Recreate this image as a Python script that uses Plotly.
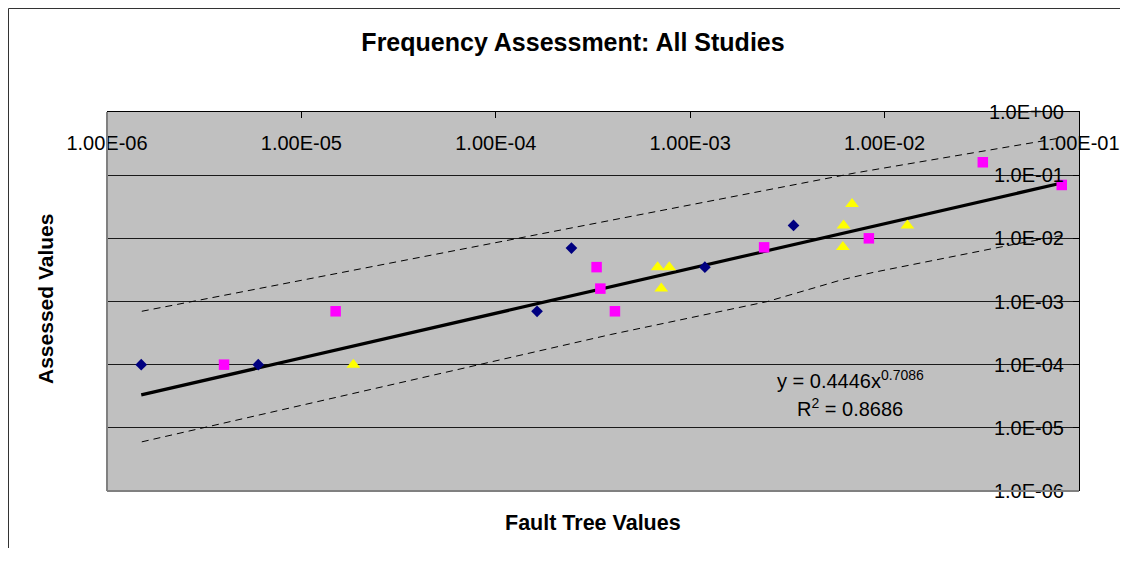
import plotly.graph_objects as go

# ---- data ----
navy_x = [1.5e-6, 6.0e-6, 1.63e-4, 2.45e-4, 1.19e-3, 3.4e-3]
navy_y = [1.0e-4, 1.0e-4, 7.0e-4, 7.0e-3, 3.5e-3, 1.6e-2]

pink_x = [4.0e-6, 1.5e-5, 3.3e-4, 3.45e-4, 4.1e-4, 2.4e-3, 8.3e-3, 3.2e-2, 8.15e-2]
pink_y = [1.0e-4, 7.0e-4, 3.5e-3, 1.6e-3, 7.0e-4, 7.2e-3, 1.0e-2, 0.16, 0.07]

yel_x = [1.85e-5, 6.8e-4, 7.8e-4, 7.1e-4, 6.1e-3, 6.15e-3, 6.8e-3, 1.31e-2]
yel_y = [1.0e-4, 3.5e-3, 3.5e-3, 1.6e-3, 7.3e-3, 1.6e-2, 3.5e-2, 1.6e-2]

# power trendline y = a * x^b (coefficients shown on the chart)
trend_a = 0.4446
trend_b = 0.7086

upper_x = [1.51e-6, 3.9e-4, 5.9e-3, 7.0e-3, 8.1e-2]
upper_y = [7.0e-4, 1.93e-2, 9.6e-2, 0.108, 0.39]
lower_x = [1.51e-6, 3.9e-4, 2.5e-3, 6.0e-3, 8.8e-3, 4.6e-2, 8.1e-2]
lower_y = [6.0e-6, 3.0e-4, 1.0e-3, 2.2e-3, 2.9e-3, 8.0e-3, 1.1e-2]

x_tickvals = [1e-6, 1e-5, 1e-4, 1e-3, 1e-2, 1e-1]
x_ticktext = ["1.00E-06", "1.00E-05", "1.00E-04", "1.00E-03", "1.00E-02", "1.00E-01"]
y_tickvals = [1e0, 1e-1, 1e-2, 1e-3, 1e-4, 1e-5, 1e-6]
y_ticktext = ["1.0E+00", "1.0E-01", "1.0E-02", "1.0E-03", "1.0E-04", "1.0E-05", "1.0E-06"]

title_text = "Frequency Assessment: All Studies"
x_title = "Fault Tree Values"
y_title = "Assessed Values"
eq_text = "y = 0.4446x<sup>0.7086</sup>"
r2_text = "R<sup>2</sup> = 0.8686"

FONT = "Arial, Liberation Sans, sans-serif"

# page body has an 8px margin; figure sized so the page stays inside the window
OFF = 8
W, H = 1112, 540
L, R, T, B = 99, 41, 104, 57
PW, PH = W - L - R, H - T - B


def ax(p):  # absolute window x pixel -> paper fraction
    return (p - OFF - L) / PW


def ay(p):  # absolute window y pixel -> paper fraction
    return (H - B - (p - OFF)) / PH


all_x = navy_x + pink_x + yel_x
tx = [min(all_x), max(all_x)]
ty = [trend_a * v ** trend_b for v in tx]

fig = go.Figure()
fig.add_trace(go.Scatter(x=upper_x, y=upper_y, mode="lines",
                         line=dict(color="black", width=1, dash="7px,5px"), hoverinfo="skip"))
fig.add_trace(go.Scatter(x=lower_x, y=lower_y, mode="lines",
                         line=dict(color="black", width=1, dash="7px,5px"), hoverinfo="skip"))
fig.add_trace(go.Scatter(x=tx, y=ty, mode="lines",
                         line=dict(color="black", width=3.2), hoverinfo="skip"))
fig.add_trace(go.Scatter(x=navy_x, y=navy_y, mode="markers",
                         marker=dict(symbol="diamond", size=9, color="#000080", line=dict(width=0))))
fig.add_trace(go.Scatter(x=pink_x, y=pink_y, mode="markers",
                         marker=dict(symbol="square", size=10.5, color="#FF00FF", line=dict(width=0))))
fig.add_trace(go.Scatter(x=yel_x, y=yel_y, mode="markers",
                         marker=dict(symbol="triangle-up", size=12, color="#FFFF00", line=dict(width=0))))
# carrier trace for the label-only overlay axes
fig.add_trace(go.Scatter(x=[None], y=[None], xaxis="x2", yaxis="y2", mode="markers",
                         hoverinfo="skip", showlegend=False))

fig.update_layout(
    width=W, height=H,
    autosize=False,
    margin=dict(l=L, r=R, t=T, b=B, pad=0, autoexpand=False),
    paper_bgcolor="white",
    plot_bgcolor="#C0C0C0",
    showlegend=False,
    font=dict(family=FONT, color="black", size=20),
    title=dict(text="<b>" + title_text + "</b>", x=(573 - OFF) / W, y=1 - (42 - OFF) / H,
               xref="container", yref="container", xanchor="center", yanchor="middle",
               automargin=False,
               font=dict(family=FONT, size=25, color="black")),
    xaxis=dict(type="log", range=[-6, -1], side="top", automargin=False,
               tickvals=x_tickvals, showticklabels=False,
               ticks="inside", ticklen=6, tickcolor="black", tickwidth=1,
               showline=True, linecolor="black", linewidth=1,
               showgrid=False, zeroline=False),
    yaxis=dict(type="log", range=[-6, 0], side="right", automargin=False,
               tickvals=y_tickvals, showticklabels=False,
               ticks="inside", ticklen=6, tickcolor="black", tickwidth=1,
               showline=True, linecolor="black", linewidth=1,
               showgrid=True, gridcolor="#1a1a1a", gridwidth=1, zeroline=False),
    xaxis2=dict(type="log", range=[-6, -1], overlaying="x", side="bottom", automargin=False,
                anchor="free", position=ay(128.5),
                tickvals=x_tickvals, ticktext=x_ticktext, ticks="",
                tickfont=dict(family=FONT, size=20, color="black"),
                showline=False, showgrid=False, zeroline=False),
    yaxis2=dict(type="log", range=[-6, 0], overlaying="y", side="left", automargin=False,
                anchor="free", position=ax(1064),
                tickvals=y_tickvals, ticktext=y_ticktext, ticks="",
                tickfont=dict(family=FONT, size=20, color="black"),
                showline=False, showgrid=False, zeroline=False),
    shapes=[
        # outer chart border (left and top visible)
        dict(type="rect", xref="paper", yref="paper",
             x0=ax(8.5), x1=ax(1160), y0=ay(600), y1=ay(8.5),
             line=dict(color="#333333", width=1), fillcolor="rgba(0,0,0,0)", layer="above"),
        # gray plot-area border on left and bottom
        dict(type="line", xref="paper", yref="paper", x0=0, x1=0, y0=0, y1=1,
             line=dict(color="#808080", width=2), layer="above"),
        dict(type="line", xref="paper", yref="paper", x0=0, x1=1, y0=0, y1=0,
             line=dict(color="#808080", width=2), layer="above"),
    ],
    annotations=[
        dict(text="<b>" + x_title + "</b>", xref="paper", yref="paper",
             x=0.5, y=ay(523), xanchor="center", yanchor="middle", showarrow=False,
             font=dict(family=FONT, size=21.5, color="black")),
        dict(text="<b>" + y_title + "</b>", xref="paper", yref="paper",
             x=ax(45), y=ay(299), xanchor="center", yanchor="middle", showarrow=False,
             textangle=-90, font=dict(family=FONT, size=21, color="black")),
        dict(text=eq_text, xref="paper", yref="paper",
             x=ax(850), y=ay(379), xanchor="center", yanchor="middle", showarrow=False,
             font=dict(family=FONT, size=20, color="black")),
        dict(text=r2_text, xref="paper", yref="paper",
             x=ax(850), y=ay(407), xanchor="center", yanchor="middle", showarrow=False,
             font=dict(family=FONT, size=20, color="black")),
    ],
)

fig.write_html("out.html")
